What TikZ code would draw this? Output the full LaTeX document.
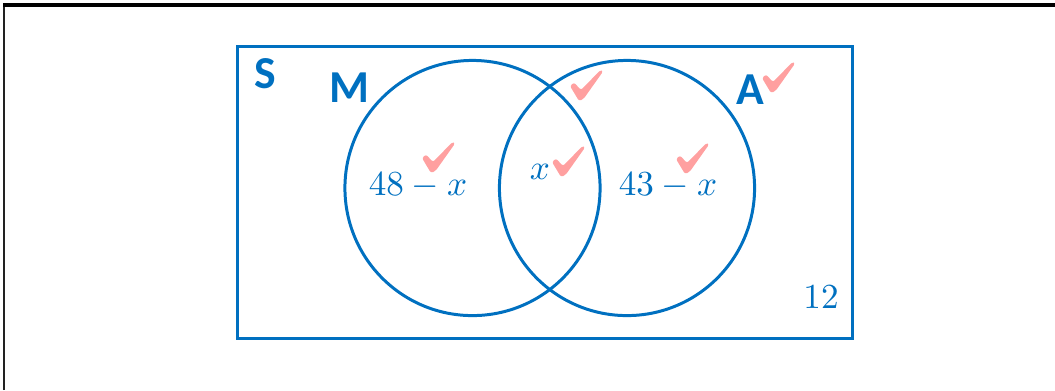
\documentclass[tikz,border=0pt]{standalone}
\usepackage{fontspec}
\newfontfamily\labfont{Carlito}
\usepackage{tikz}
\usetikzlibrary{positioning}
\definecolor{vnblue}{HTML}{0070C0}
\definecolor{vnpink}{HTML}{FFA0A0}
\definecolor{vnframe}{HTML}{222222}

\begin{document}
\begin{tikzpicture}[
  x=0.01cm,
  y=-0.01cm,
  set/.style={circle, draw=vnblue, line width=0.85pt, minimum size=2.55cm, inner sep=0pt},
  univ/.style={rectangle, draw=vnblue, line width=0.85pt, minimum width=6.14cm, minimum height=2.91cm, inner sep=0pt},
  setname/.style={text=vnblue, font=\labfont\bfseries\fontsize{13}{13}\selectfont, inner sep=0pt, anchor=base},
  region/.style={text=vnblue, font=\fontsize{10.2}{10.2}\selectfont, inner sep=0pt, anchor=base},
  chk/.pic={\fill[vnpink, rounded corners=0.6pt] (0,16) -- (4,12.5) -- (11,20) -- (30.5,0) -- (33,1.5) -- (13.5,29) -- (9,31) -- cycle;}
]
  \useasboundingbox (0,0) rectangle (1055,390);
  % page frame
  \draw[vnframe, line width=0.45pt] (4,390) -- (4,5);
  \draw[black, line width=0.9pt] (3,5) -- (1055,5);

  % universal set and the two sets
  \node[univ] (S) at (545,192.5) {};
  \node[set] (M) at (472.5,188) {};
  \node[set] (A) at (627,188) {};

  \node[setname] (Slab) at (265,88) {S};
  \node[setname] (Mlab) at (349.5,102) {M};
  \node[setname] (Alab) at (750.5,104) {A};

  % regions
  \node[region] (onlyM) at (418,195) {$48-x$};
  \node[region] (both) at (540,179) {$x$};
  \node[region] (onlyA) at (668,195) {$43-x$};
  \node[region] (none) at (821,308) {$12$};

  % marking ticks
  \pic at (422,142) {chk};
  \pic at (552,146) {chk};
  \pic at (570,70) {chk};
  \pic at (762,62) {chk};
  \pic at (676,143) {chk};
\end{tikzpicture}
\end{document}
